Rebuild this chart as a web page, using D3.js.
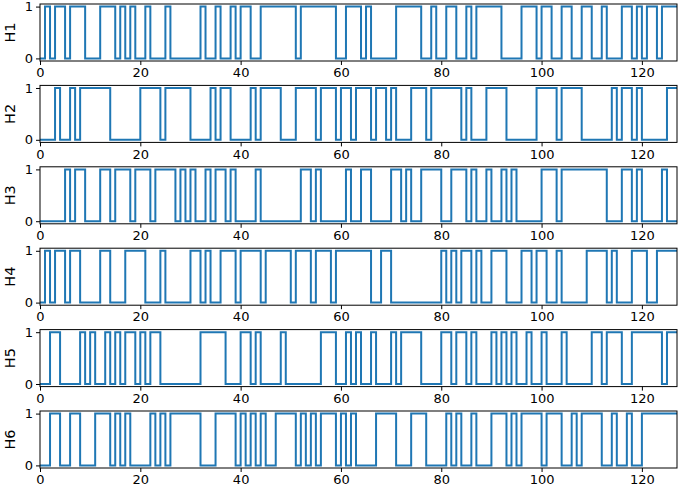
<!DOCTYPE html>
<html><head><meta charset="utf-8">
<script src="https://cdn.jsdelivr.net/npm/d3@7"></script>
<style>body{margin:0;background:#fff}svg{display:block}</style>
</head><body>
<svg id="c" width="685" height="489"></svg>
<script>
const labels = ["H1","H2","H3","H4","H5","H6"];
const xTicks = [0,20,40,60,80,100,120];
const yTicks = [0,1];
const H1 = [0,1,0,1,1,0,1,1,1,0, 0,0,1,1,1,0,1,0,1,0, 0,1,0,0,0,1,0,0,0,0, 0,0,1,0,0,1,0,0,1,0, 1,1,0,0,1,1,1,1,1,1, 1,0,1,1,1,1,1,1,1,0, 0,1,1,1,0,1,0,0,0,0, 0,1,1,1,1,1,0,0,1,0, 0,1,1,0,0,1,0,1,1,1, 1,1,0,0,0,0,1,1,1,0, 1,1,0,0,1,1,0,0,1,1, 0,0,1,0,0,0,1,1,0,1, 0,1,1,0,1,1,1,1];
const H2 = [0,0,0,1,0,0,1,0,1,1, 1,1,1,1,0,0,0,0,0,0, 1,1,1,1,0,1,1,1,1,1, 0,0,0,0,1,0,1,1,0,0, 0,0,1,0,1,1,1,1,0,0, 0,1,1,1,1,0,1,1,1,0, 1,1,0,1,1,1,0,1,1,0, 1,0,0,0,1,1,1,0,1,1, 1,1,1,1,0,1,0,0,0,1, 1,1,1,0,0,0,0,0,0,1, 1,1,1,0,1,1,1,1,0,0, 0,0,0,0,1,0,1,1,0,1, 0,0,0,0,0,1,1,1];
const H3 = [0,0,0,0,0,1,0,1,1,0, 0,0,1,1,0,1,1,1,0,1, 1,1,0,1,1,1,1,0,1,0, 1,0,0,1,0,1,1,0,1,0, 0,0,0,1,0,0,0,0,0,0, 0,0,1,1,0,1,0,0,0,0, 0,1,0,0,1,1,0,0,0,0, 1,1,0,1,0,0,1,1,1,1, 0,0,1,1,1,0,1,0,0,1, 0,0,1,0,1,0,0,0,0,0, 1,1,1,0,1,1,1,1,1,1, 1,1,1,0,0,0,1,1,0,1, 0,0,0,0,1,0,0,0];
const H4 = [0,1,0,1,1,0,1,1,0,0, 0,0,1,1,0,0,0,1,1,1, 1,0,0,0,1,0,0,0,0,0, 1,1,0,1,0,0,1,1,1,0, 1,1,1,1,0,1,1,1,1,1, 0,1,1,1,0,1,1,1,0,1, 1,1,1,1,1,1,0,0,1,1, 0,0,0,0,0,0,0,0,0,0, 1,0,1,0,1,1,0,1,0,0, 1,1,1,0,0,0,1,1,0,1, 1,0,0,1,0,0,0,0,0,1, 1,1,1,0,1,0,0,0,1,1, 1,0,0,1,1,1,1,1];
const H5 = [0,0,1,1,0,0,0,0,1,0, 1,0,0,1,0,1,0,1,1,0, 1,0,1,1,0,0,0,0,0,0, 0,0,1,1,1,1,1,0,0,0, 1,1,0,1,0,0,0,0,1,0, 0,0,0,0,0,0,1,1,1,0, 0,1,0,1,0,0,1,0,0,0, 1,0,1,1,1,1,0,0,0,0, 1,1,0,1,1,0,1,0,0,0, 1,0,1,0,1,0,0,1,0,0, 1,0,0,0,1,0,0,0,0,0, 1,1,0,1,1,1,0,0,1,1, 1,1,1,1,0,1,1,1];
const H6 = [0,0,1,1,0,0,1,1,0,0, 0,1,1,1,0,1,0,1,0,0, 0,0,1,0,1,0,1,1,1,1, 1,1,0,0,0,1,1,1,1,0, 1,0,1,0,1,0,0,1,1,1, 1,0,1,0,1,0,1,1,1,0, 1,0,1,0,0,0,0,1,1,1, 1,0,0,0,1,1,1,0,0,0, 0,1,0,1,0,0,1,0,0,0, 1,1,1,0,1,0,1,1,1,1, 0,1,1,1,0,0,1,0,1,1, 1,1,0,0,1,0,0,1,0,0, 1,1,1,1,1,1,1,1];
const series = [H1,H2,H3,H4,H5,H6];

const svg = d3.select("#c");
const left = 40, right = 677, top0 = 4, rowStep = 81.4, rowH = 57;
const x = d3.scaleLinear().domain([0,127]).range([left,right]);
const font = "DejaVu Sans, sans-serif";

series.forEach((vals,i)=>{
  const t = top0 + rowStep*i, b = t + rowH;
  const y = d3.scaleLinear().domain([-0.05,1.05]).range([b,t]);
  const g = svg.append("g");
  const line = d3.line().x((d,k)=>x(k)).y(d=>y(d)).curve(d3.curveStepAfter);
  g.append("path").datum(vals).attr("d",line)
    .attr("fill","none").attr("stroke","#1f77b4").attr("stroke-width",2);
  const xa = g.append("g").attr("transform",`translate(0,${b})`)
    .call(d3.axisBottom(x).tickValues(xTicks).tickSize(4).tickPadding(3).tickFormat(d3.format("d")));
  const ya = g.append("g").attr("transform",`translate(${left},0)`)
    .call(d3.axisLeft(y).tickValues(yTicks).tickSize(4).tickPadding(3).tickFormat(d3.format("d")));
  [xa,ya].forEach(a=>{
    a.select(".domain").remove();
    a.selectAll("text").attr("font-family",font).attr("font-size",13).attr("fill","#000");
    a.selectAll("line").attr("stroke","#000").attr("stroke-width",1);
  });
  g.append("rect").attr("x",left).attr("y",t).attr("width",right-left).attr("height",rowH)
    .attr("fill","none").attr("stroke","#000").attr("stroke-width",1);
  g.append("text").text(labels[i])
    .attr("transform",`translate(15,${(t+b)/2}) rotate(-90)`)
    .attr("text-anchor","middle").attr("font-family",font).attr("font-size",14.5);
});
</script>
</body></html>
